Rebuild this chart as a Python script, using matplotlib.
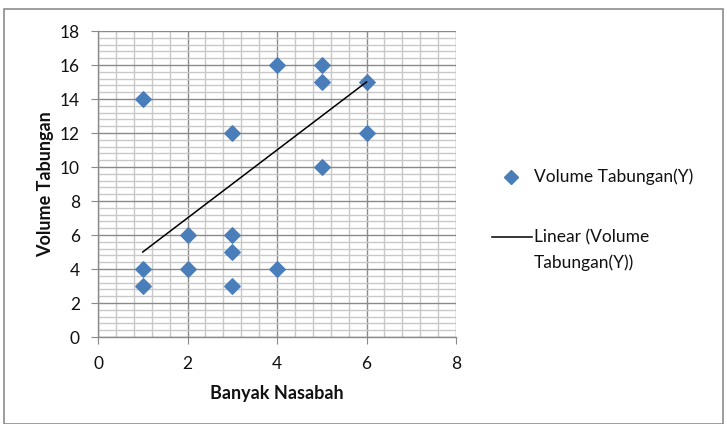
import matplotlib
matplotlib.use("Agg")
import matplotlib.pyplot as plt
from matplotlib.patches import Rectangle
from matplotlib.lines import Line2D
import numpy as np

plt.rcParams['font.family'] = ['Lato', 'DejaVu Sans']

banyak_nasabah = [1, 1, 1, 2, 2, 3, 3, 3, 3, 4, 4, 5, 5, 5, 6, 6]
volume_tabungan = [14, 4, 3, 6, 4, 12, 6, 5, 3, 16, 4, 16, 15, 10, 15, 12]
trend_x = [1, 6]
trend_y = [5, 15]
x_ticks = [0, 2, 4, 6, 8]
y_ticks = [0, 2, 4, 6, 8, 10, 12, 14, 16, 18]
series_label = 'Volume Tabungan(Y)'
trend_label = 'Linear (Volume\nTabungan(Y))'

W, H = 727, 424
fig = plt.figure(figsize=(W / 100, H / 100), dpi=100)
fig.patches.append(Rectangle((4 / W, 0.0), 719 / W, 1 - 9 / H, transform=fig.transFigure,
                             fill=False, edgecolor='#8c8c8c', linewidth=1.2))
ax = fig.add_axes([98 / W, 1 - 337 / H, (456 - 98) / W, (337 - 31) / H])

ax.set_xlim(0, 8)
ax.set_ylim(0, 18)
ax.set_xticks(x_ticks)
ax.set_yticks(y_ticks)
ax.set_xticks(np.arange(0, 8.01, 0.4), minor=True)
ax.set_yticks(np.arange(0, 18.01, 0.4), minor=True)
ax.grid(which='minor', color='#c8c8c8', linewidth=1.0)
ax.grid(which='major', color='#8a8a8a', linewidth=1.0)
ax.set_axisbelow(True)
for s in ['top', 'right']:
    ax.spines[s].set_visible(False)
for s in ['left', 'bottom']:
    ax.spines[s].set_color('#8a8a8a')
    ax.spines[s].set_linewidth(1.0)
ax.tick_params(which='minor', length=0)
ax.tick_params(which='major', length=5, color='#8a8a8a', labelsize=12.5, labelcolor='#111111')
ax.tick_params(axis='y', pad=8)
ax.tick_params(axis='x', pad=9)

ax.scatter(banyak_nasabah, volume_tabungan, marker='D', s=62, color='#4a7ebb',
           edgecolors='#4a7ebb', zorder=3)
ax.plot(trend_x, trend_y, color='black', linewidth=1.1, zorder=4)

ax.set_xlabel('Banyak Nasabah', fontsize=13, fontweight='bold', labelpad=9, color='#111111')
ax.set_ylabel('Volume Tabungan', fontsize=13, fontweight='bold', labelpad=4, color='#111111')

# legend (Excel style)
fig.add_artist(Line2D([511 / W], [1 - 177 / H], marker='D', markersize=7, color='#4a7ebb',
                      linestyle='none', transform=fig.transFigure))
fig.text(534 / W, 1 - 177 / H, series_label, fontsize=12.5, va='center', ha='left', color='#111111')
fig.add_artist(Line2D([492 / W, 532 / W], [1 - 237 / H, 1 - 237 / H], color='black',
                      linewidth=1.1, transform=fig.transFigure))
fig.text(534 / W, 1 - 229 / H, trend_label, fontsize=12.5, va='top', ha='left',
         linespacing=1.7, color='#111111')

fig.savefig('out.png', dpi=100)
